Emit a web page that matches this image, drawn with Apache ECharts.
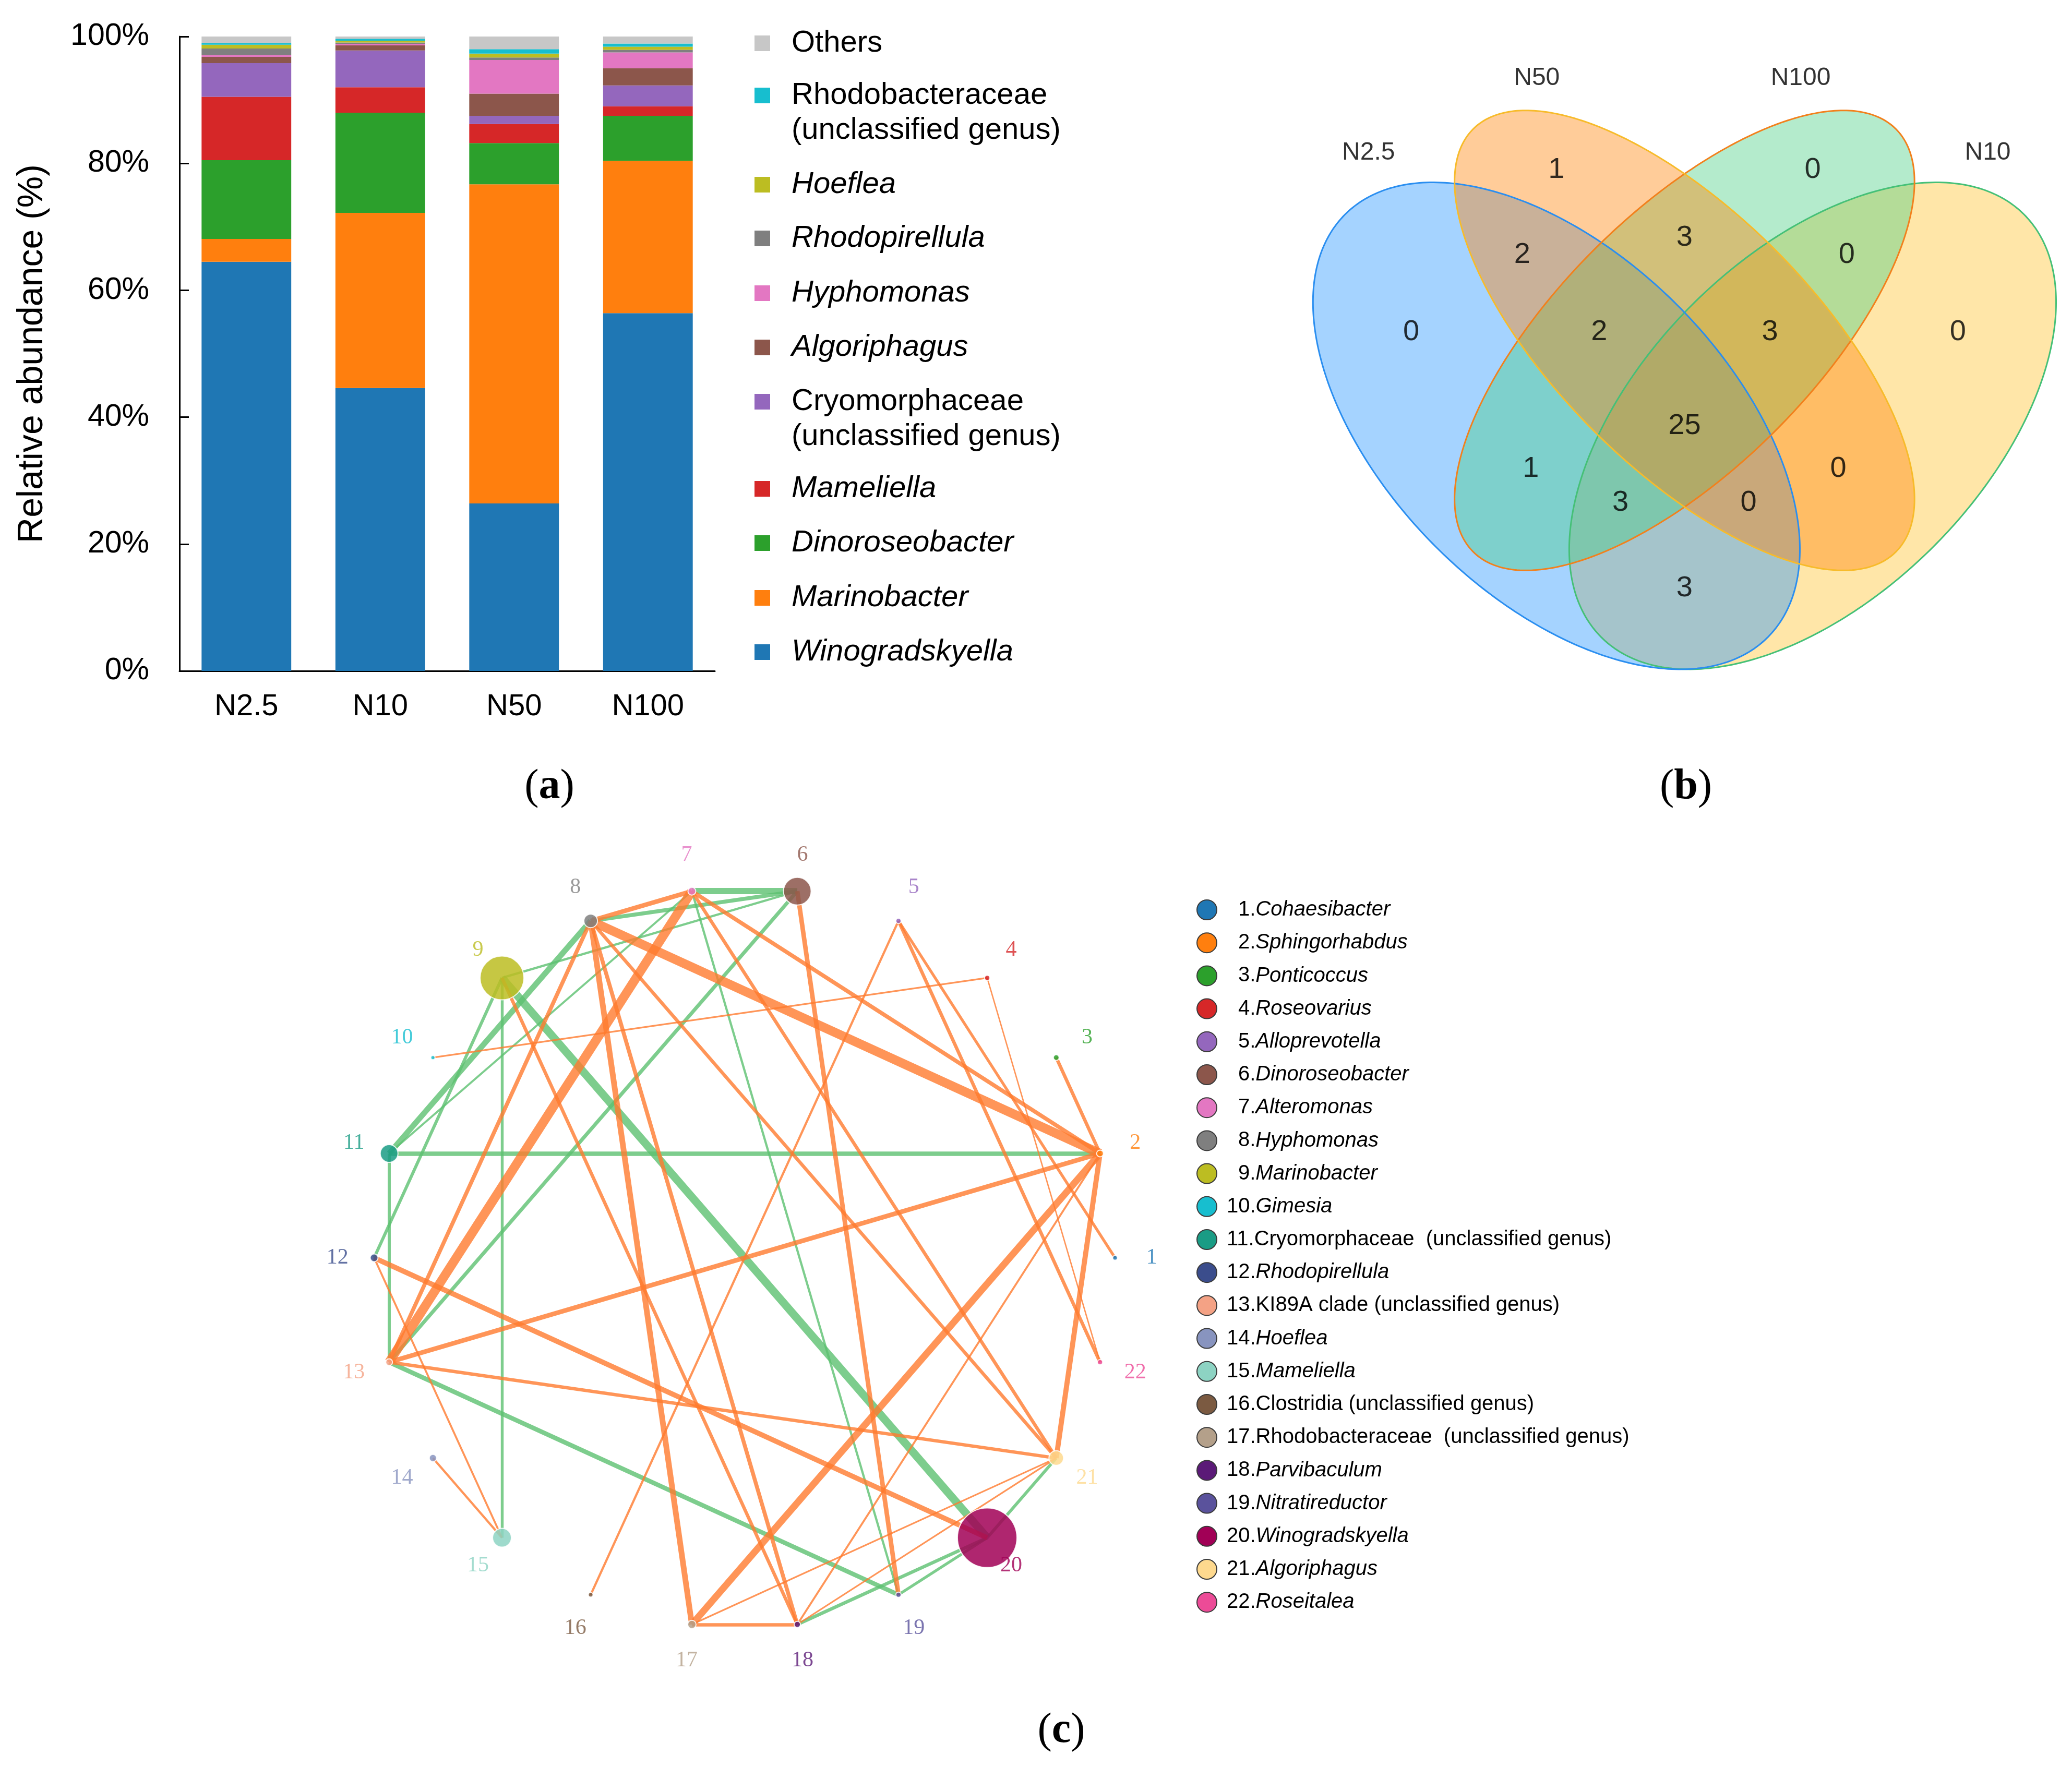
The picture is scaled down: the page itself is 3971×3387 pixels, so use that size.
<!DOCTYPE html>
<html>
<head>
<meta charset="utf-8">
<script src="https://cdn.jsdelivr.net/npm/echarts@6/dist/echarts.min.js"></script>
<style>
html,body{margin:0;padding:0;background:#ffffff;}
#c{width:3971px;height:3387px;}
</style>
</head>
<body>
<div id="c"></div>
<script>
// ===================== (a) stacked bars =====================
const samples = ['N2.5', 'N10', 'N50', 'N100'];
const taxa = ['Winogradskyella', 'Marinobacter', 'Dinoroseobacter', 'Mameliella',
  'Cryomorphaceae (unclassified genus)', 'Algoriphagus', 'Hyphomonas', 'Rhodopirellula',
  'Hoeflea', 'Rhodobacteraceae (unclassified genus)', 'Others'];
const winogradskyella = [64.5, 44.6, 26.4, 56.4];
const marinobacter = [3.6, 27.6, 50.3, 24.0];
const dinoroseobacter = [12.4, 15.8, 6.5, 7.1];
const mameliella = [10.0, 4.0, 3.0, 1.5];
const cryomorphaceae = [5.3, 5.8, 1.3, 3.3];
const algoriphagus = [1.0, 0.8, 3.5, 2.7];
const hyphomonas = [0.3, 0.25, 5.3, 2.5];
const rhodopirellula = [1.0, 0.2, 0.4, 0.4];
const hoeflea = [0.6, 0.3, 0.6, 0.5];
const rhodobacteraceae = [0.3, 0.3, 0.7, 0.5];
const others = [1.0, 0.35, 2.0, 1.1];
const yTicks = [0, 20, 40, 60, 80, 100];

// ===================== (b) Venn =====================
const vennSets = ['N2.5', 'N50', 'N100', 'N10'];
const vennRegions = ['N50', 'N50&N100', 'N100', 'N2.5&N50', 'N2.5&N50&N100', 'N2.5&N50&N100&N10',
  'N50&N100&N10', 'N100&N10', 'N2.5', 'N2.5&N100', 'N2.5&N100&N10', 'N2.5&N10', 'N2.5&N50&N10',
  'N50&N10', 'N10'];
const vennCounts = [1, 3, 0, 2, 2, 25, 3, 0, 0, 1, 3, 3, 0, 0, 0];

// ===================== (c) co-occurrence network =====================
const genera = ['Cohaesibacter', 'Sphingorhabdus', 'Ponticoccus', 'Roseovarius', 'Alloprevotella',
  'Dinoroseobacter', 'Alteromonas', 'Hyphomonas', 'Marinobacter', 'Gimesia',
  'Cryomorphaceae  (unclassified genus)', 'Rhodopirellula', 'KI89A clade (unclassified genus)',
  'Hoeflea', 'Mameliella', 'Clostridia (unclassified genus)', 'Rhodobacteraceae  (unclassified genus)',
  'Parvibaculum', 'Nitratireductor', 'Winogradskyella', 'Algoriphagus', 'Roseitalea'];
const nodeAbundance = [9, 13, 11, 10, 10, 53, 15, 26, 84, 8, 34, 15, 13, 14, 36, 9, 16, 12, 10, 114, 28, 10];
// [source, target, strength]
const positiveLinks = [
  [7, 6, 10], [8, 6, 6], [9, 6, 3], [11, 8, 9], [11, 7, 2.5], [12, 9, 4.5], [9, 15, 4], [9, 20, 13],
  [6, 13, 5.5], [11, 2, 7], [11, 13, 4.5], [13, 19, 7], [7, 19, 3], [18, 20, 5], [19, 20, 4], [20, 21, 4.5]
];
const negativeLinks = [
  [8, 7, 7], [8, 2, 15], [7, 2, 6], [7, 13, 15], [8, 13, 6], [8, 17, 9], [8, 18, 6], [8, 21, 5],
  [7, 21, 5], [9, 18, 5], [6, 19, 7], [5, 16, 3], [5, 22, 5], [5, 1, 4], [4, 10, 2], [4, 22, 1.5],
  [3, 2, 5], [2, 13, 7], [2, 17, 11], [2, 21, 8], [2, 18, 2.5], [12, 20, 8], [12, 15, 2.5],
  [14, 15, 3], [13, 21, 5], [17, 18, 5], [17, 21, 2], [18, 21, 2]
];

// ===================== styles & layout =====================
const SANS = 'Liberation Sans, Arial, sans-serif';
const SERIF = 'Liberation Serif, Times New Roman, serif';
const taxaColors = ['#1f77b4', '#ff7f0e', '#2ca02c', '#d62728', '#9467bd', '#8c564b', '#e377c2',
  '#7f7f7f', '#bcbd22', '#17becf', '#c7c7c7'];
const italicTaxa = ['Winogradskyella', 'Marinobacter', 'Dinoroseobacter', 'Mameliella', 'Algoriphagus',
  'Hyphomonas', 'Rhodopirellula', 'Hoeflea'];
const nodeColors = ['#1f77b4', '#ff7f0e', '#2ca02c', '#d62728', '#9467bd', '#8c564b', '#e377c2', '#7f7f7f',
  '#bcbd22', '#17becf', '#1a9c85', '#3b4d8c', '#f4a285', '#8894bf', '#8dd3c3', '#7b5a41', '#b4a08a',
  '#5b1a77', '#5a529c', '#a10056', '#fed98e', '#ec4b97'];
const nonItalicGenera = [11, 13, 16, 17];

// Venn geometry (VennDiagram quad layout, unit square), in set order
const vennEllipses = [
  [0.35, 0.47, 0.35, 0.20, -45],
  [0.50, 0.57, 0.35, 0.15, -45],
  [0.50, 0.57, 0.35, 0.15, 45],
  [0.65, 0.47, 0.35, 0.20, 45]
];
const vennFill = ['rgba(30,144,255,0.4)', 'rgba(255,127,0,0.4)', 'rgba(67,205,128,0.4)', 'rgba(255,193,37,0.4)'];
const vennStroke = ['#2a8ef0', '#f7bb2a', '#f2801c', '#45c077'];
const vennDrawOrder = [3, 0, 2, 1];
const vennLabelPos = [[0.35, 0.77], [0.5, 0.69], [0.65, 0.77], [0.31, 0.67], [0.4, 0.58], [0.5, 0.47],
  [0.6, 0.58], [0.69, 0.67], [0.18, 0.58], [0.32, 0.42], [0.425, 0.38], [0.5, 0.28], [0.575, 0.38],
  [0.68, 0.42], [0.82, 0.58]];
const vennSetLabelPos = [[0.13, 0.79], [0.327, 0.877], [0.636, 0.877], [0.855, 0.79]];

const abundance = [winogradskyella, marinobacter, dinoroseobacter, mameliella, cryomorphaceae,
  algoriphagus, hyphomonas, rhodopirellula, hoeflea, rhodobacteraceae, others];

// bar legends (one component per entry so that 2-line entries keep the icon on line 1)
const LH = 67;
const barLegendOrder = taxa.slice().reverse();
const barLegendIconY = [83, 183, 354, 457, 562, 666, 770, 937, 1041, 1146, 1250];
const barLegends = barLegendOrder.map(function (name, i) {
  const lines = name.indexOf('(') >= 0 ? 2 : 1;
  return {
    data: [name], orient: 'vertical', left: 1446, top: barLegendIconY[i] - (2 * lines - 1) * LH / 2,
    padding: 0, icon: 'rect', itemWidth: 30, itemHeight: 30, selectedMode: false,
    formatter: function (n) { return n.indexOf(' (') >= 0 ? '\n' + n.replace(' (', '\n(') : n; },
    textStyle: {
      fontFamily: SANS, fontSize: 58, color: '#000', lineHeight: LH,
      fontStyle: italicTaxa.indexOf(name) >= 0 ? 'italic' : 'normal',
      padding: [0, 0, 0, 36], backgroundColor: 'rgba(255,255,255,0)'
    }
  };
});

const categoryNames = genera.map(function (g, i) { return (i + 1) + '.' + g; });
const netLegend = {
  data: categoryNames, orient: 'vertical', left: 2293, top: 1724, padding: 0,
  icon: 'circle', itemWidth: 38, itemHeight: 38, itemGap: 23.2, selectedMode: false,
  itemStyle: { borderColor: '#3a3a3a', borderWidth: 2, opacity: 1 },
  formatter: function (name) {
    const dot = name.indexOf('.');
    const num = name.slice(0, dot + 1);
    const idx = parseInt(num, 10);
    const rest = name.slice(dot + 1);
    const nStyle = idx < 10 ? 'n1' : 'n';
    const tStyle = nonItalicGenera.indexOf(idx) >= 0 ? 'r' : 'i';
    return '{' + nStyle + '|' + num + '}{' + tStyle + '|' + rest + '}';
  },
  textStyle: {
    fontFamily: SANS, fontSize: 40, color: '#000', lineHeight: 38, padding: [0, 0, 0, 14],
    rich: {
      n: { fontFamily: SANS, fontSize: 40, color: '#000' },
      n1: { fontFamily: SANS, fontSize: 40, color: '#000', padding: [0, 0, 0, 22] },
      i: { fontFamily: SANS, fontSize: 40, color: '#000', fontStyle: 'italic' },
      r: { fontFamily: SANS, fontSize: 40, color: '#000' }
    }
  }
};

function ellipseItem(fill) {
  return function (params, api) {
    const cx = api.value(0), cy = api.value(1), a = api.value(2), b = api.value(3);
    const rot = api.value(4) * Math.PI / 180;
    const pts = [];
    const N = 360;
    for (let k = 0; k < N; k++) {
      const t = k / N * 2 * Math.PI;
      const ux = a * Math.cos(t), uy = b * Math.sin(t);
      pts.push(api.coord([cx + ux * Math.cos(rot) - uy * Math.sin(rot), cy + ux * Math.sin(rot) + uy * Math.cos(rot)]));
    }
    const s = vennDrawOrder[params.dataIndex];
    return {
      type: 'polygon', shape: { points: pts },
      style: fill ? { fill: vennFill[s], stroke: null } : { fill: 'none', stroke: vennStroke[s], lineWidth: 3 }
    };
  };
}
const vennDrawData = vennDrawOrder.map(function (s) { return vennEllipses[s]; });

function linkWidth(w) { return 1 + 1.1 * w; }
const links = [];
positiveLinks.forEach(function (l) {
  links.push({ source: String(l[0]), target: String(l[1]), lineStyle: { width: linkWidth(l[2]), color: '#5cc071', opacity: 0.8 } });
});
negativeLinks.forEach(function (l) {
  links.push({ source: String(l[0]), target: String(l[1]), lineStyle: { width: linkWidth(l[2]), color: '#ff7a2e', opacity: 0.8 } });
});

const panelLabel = function (letter, x, y) {
  return {
    type: 'text', x: x, y: y, silent: true,
    style: {
      text: '{p|(}{b|' + letter + '}{p|)}', align: 'center', verticalAlign: 'middle',
      rich: {
        p: { fontFamily: SERIF, fontSize: 82, color: '#000' },
        b: { fontFamily: SERIF, fontSize: 82, fontWeight: 'bold', color: '#000' }
      }
    }
  };
};

const option = {
  animation: false,
  backgroundColor: '#ffffff',
  grid: [
    { left: 344, top: 70, width: 1026, height: 1216 },
    { left: 2410, top: 14, width: 1555, height: 1408 }
  ],
  xAxis: [
    {
      gridIndex: 0, type: 'category', data: samples, boundaryGap: true,
      axisLine: { lineStyle: { color: '#000', width: 3 } },
      axisTick: { inside: true, length: 18, lineStyle: { color: '#000', width: 3 } },
      axisLabel: { fontFamily: SANS, fontSize: 58, color: '#000', margin: 40 }
    },
    { gridIndex: 1, type: 'value', min: 0, max: 0.95, show: false }
  ],
  yAxis: [
    {
      gridIndex: 0, type: 'value', min: yTicks[0], max: yTicks[yTicks.length - 1], interval: yTicks[1] - yTicks[0],
      name: 'Relative abundance (%)', nameLocation: 'middle', nameGap: 248, nameRotate: 90,
      nameTextStyle: { fontFamily: SANS, fontSize: 68, color: '#000', lineHeight: 68 },
      axisLine: { show: true, lineStyle: { color: '#000', width: 3 } },
      axisTick: { show: true, inside: true, length: 18, lineStyle: { color: '#000', width: 3 } },
      axisLabel: { fontFamily: SANS, fontSize: 59, color: '#000', margin: 58, formatter: '{value}%' },
      splitLine: { show: false }
    },
    { gridIndex: 1, type: 'value', min: 0.1, max: 0.96, show: false }
  ],
  polar: { center: [1427, 2411], radius: 781 },
  angleAxis: {
    type: 'value', min: 0, max: genera.length, startAngle: 0, clockwise: false, show: false,
    axisLine: { show: false }, axisTick: { show: false }, axisLabel: { show: false }, splitLine: { show: false }
  },
  radiusAxis: {
    type: 'value', min: 0, max: 1.1, show: false,
    axisLine: { show: false }, axisTick: { show: false }, axisLabel: { show: false }, splitLine: { show: false }
  },
  legend: barLegends.concat([netLegend]),
  graphic: [panelLabel('a', 1053, 1509), panelLabel('b', 3231, 1509), panelLabel('c', 2034, 3318)],
  series: taxa.map(function (t, i) {
    return {
      name: t, type: 'bar', stack: 'total', xAxisIndex: 0, yAxisIndex: 0, barWidth: '67%',
      data: abundance[i], itemStyle: { color: taxaColors[i] }, emphasis: { disabled: true }
    };
  }).concat([
    {
      type: 'custom', xAxisIndex: 1, yAxisIndex: 1, renderItem: ellipseItem(true),
      data: vennDrawData, encode: { x: 0, y: 1 }, silent: true, z: 1
    },
    {
      type: 'custom', xAxisIndex: 1, yAxisIndex: 1, renderItem: ellipseItem(false),
      data: vennDrawData, encode: { x: 0, y: 1 }, silent: true, z: 2
    },
    {
      type: 'scatter', xAxisIndex: 1, yAxisIndex: 1, symbolSize: 0, silent: true, z: 3,
      data: vennCounts.map(function (c, i) { return { name: vennRegions[i], value: [vennLabelPos[i][0], vennLabelPos[i][1], c] }; }),
      label: { show: true, position: 'inside', formatter: function (p) { return String(p.value[2]); },
        fontFamily: SANS, fontSize: 56, color: '#000' }
    },
    {
      type: 'scatter', xAxisIndex: 1, yAxisIndex: 1, symbolSize: 0, silent: true, z: 3,
      data: vennSets.map(function (s, i) { return { name: s, value: vennSetLabelPos[i] }; }),
      label: { show: true, position: 'inside', formatter: '{b}', fontFamily: SANS, fontSize: 48, color: '#000' }
    },
    {
      type: 'graph', coordinateSystem: 'polar', polarIndex: 0, layout: 'none', roam: false,
      categories: categoryNames.map(function (n, i) { return { name: n, itemStyle: { color: nodeColors[i] } }; }),
      data: genera.map(function (g, i) {
        return { name: String(i + 1), value: [1, i], category: i, symbolSize: nodeAbundance[i] };
      }),
      links: links,
      itemStyle: { opacity: 0.85, borderColor: '#ffffff', borderWidth: 2 },
      lineStyle: { curveness: 0 },
      label: { show: false },
      emphasis: { disabled: true },
      silent: true, z: 2
    },
    {
      type: 'scatter', coordinateSystem: 'polar', polarIndex: 0, symbolSize: 0, silent: true, z: 3,
      data: genera.map(function (g, i) { return { name: String(i + 1), value: [1.099, i], label: { color: nodeColors[i] } }; }),
      label: { show: true, position: 'inside', formatter: '{b}', fontFamily: SERIF, fontSize: 42 }
    }
  ])
};

const chart = echarts.init(document.getElementById('c'), null, { renderer: 'canvas', width: 3971, height: 3387 });
chart.setOption(option);
</script>
</body>
</html>
